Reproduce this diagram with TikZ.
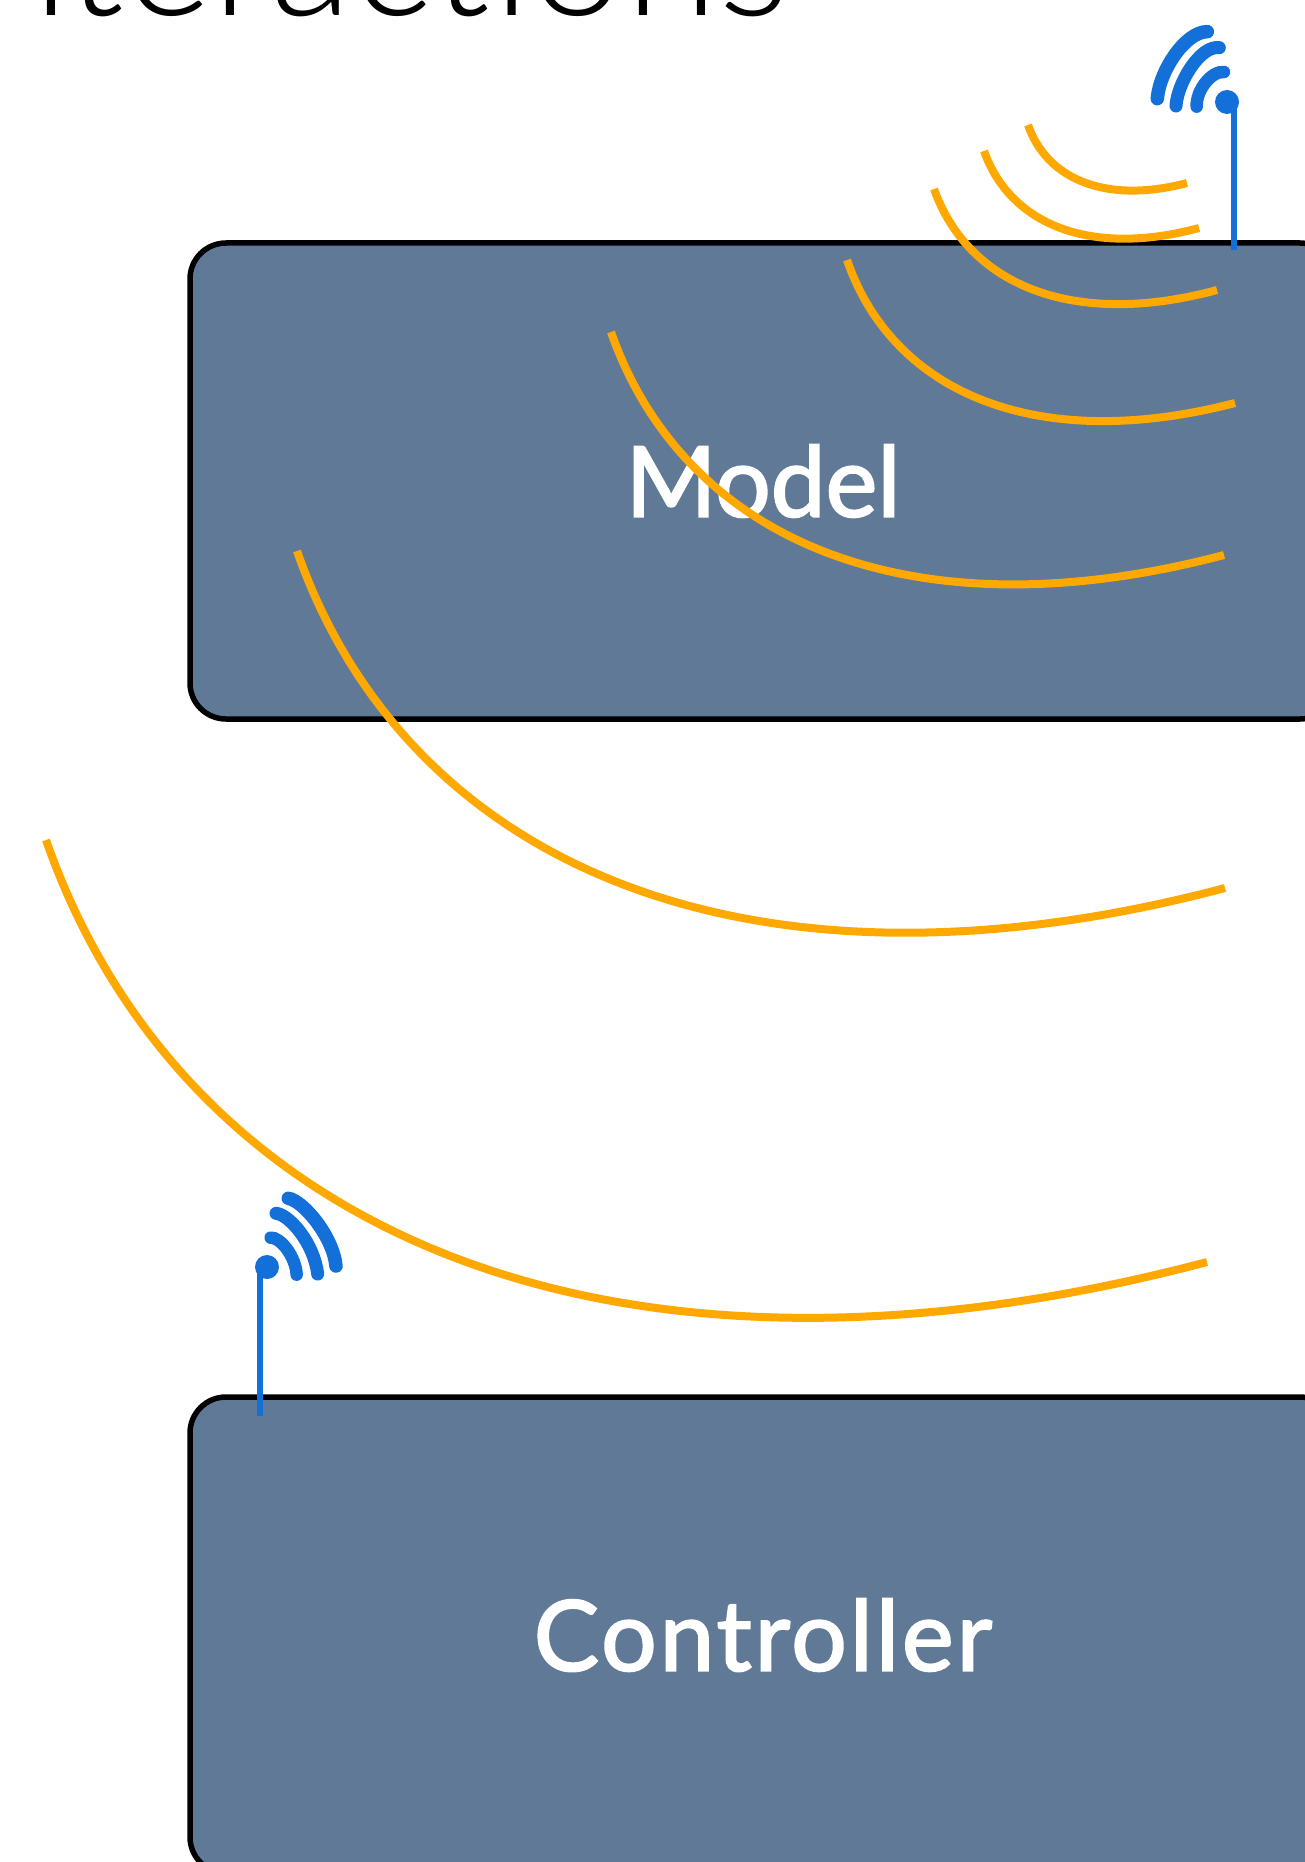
\documentclass[tikz,border=0pt]{standalone}
\usepackage{fontspec}
\setmainfont{Lato}
\newfontfamily\panelfont[FakeBold=2]{Lato}
\newfontfamily\titlefont{Lato Light}
\definecolor{slateblue}{HTML}{5F7997}
\definecolor{wave}{HTML}{FFA800}
\definecolor{antenna}{HTML}{1270D8}
\tikzset{
  panel/.style={draw=black,line width=5.5pt,fill=slateblue,rounded corners=36pt,minimum width=1146pt,minimum height=476pt,text=white,font=\panelfont\fontsize{98}{98}\selectfont,inner sep=0pt},
  wavearc/.style={draw=wave,line width=8pt},
  mast/.style={draw=antenna,line width=6.5pt},
  signal/.style={draw=antenna,line cap=round},
}
\newcommand{\swoosh}[4]{%
  \pgfmathsetmacro{\dxx}{#3-(#1)}\pgfmathsetmacro{\dyy}{#4-(#2)}%
  \pgfmathsetmacro{\ax}{#1+.2152*\dxx-.2635*\dyy}\pgfmathsetmacro{\ay}{#2+.2152*\dyy+.2635*\dxx}%
  \pgfmathsetmacro{\bx}{#1+.5931*\dxx-.2825*\dyy}\pgfmathsetmacro{\by}{#2+.5931*\dyy+.2825*\dxx}%
  \draw[wavearc] (#1,#2) .. controls (\ax,\ay) and (\bx,\by) .. (#3,#4);}
\begin{document}
\begin{tikzpicture}[x=1pt,y=-1pt]
\useasboundingbox (0,0) rectangle (1305,1862);
\clip (0,0) rectangle (1305,1862);
\fill[white] (0,0) rectangle (1305,1862);
\node[anchor=base west,inner sep=0pt,font=\titlefont\fontsize{169}{169}\selectfont,text=black] (title) at (-68,16) {Interactions};
\node[panel] (model) at (763,481) {Model};
\node[panel] (controller) at (763,1635) {\addfontfeatures{LetterSpace=3}Controller};
\swoosh{1028}{125}{1187}{183}
\swoosh{984}{151}{1199}{228}
\swoosh{934}{189}{1217}{290}
\swoosh{847}{260}{1235}{403}
\swoosh{611}{332}{1224}{555}
\swoosh{297}{551}{1225}{888}
\swoosh{46}{840}{1207}{1262}
% top antenna
\coordinate (topdot) at (1227,102);
\coordinate (topbase) at (1234,250);
\draw[mast] (1234,102) -- (topbase);
\fill[antenna] (topdot) circle (12pt);
\begin{scope}[shift={(1100,0)},x=.3333pt,y=-.3333pt]
\draw[signal,line width=13.5pt] (172,296) .. controls (178,215) and (255,95) .. (322,95);
\draw[signal,line width=13pt] (228,318) .. controls (232,250) and (300,135) .. (358,143);
\draw[signal,line width=12.5pt] (290,320) .. controls (288,270) and (335,212) .. (372,216);
\end{scope}
% bottom antenna
\coordinate (botdot) at (267,1267);
\coordinate (botbase) at (260,1416);
\draw[mast] (260,1267) -- (botbase);
\fill[antenna] (botdot) circle (12pt);
\begin{scope}[shift={(220,1170)},x=.3333pt,y=-.3333pt]
\draw[signal,line width=13.5pt] (205,85) .. controls (250,92) and (340,201) .. (348,288);
\draw[signal,line width=13pt] (168,130) .. controls (205,132) and (282,217) .. (293,312);
\draw[signal,line width=12.5pt] (152,203) .. controls (180,201) and (227,258) .. (230,314);
\end{scope}
\end{tikzpicture}
\end{document}
